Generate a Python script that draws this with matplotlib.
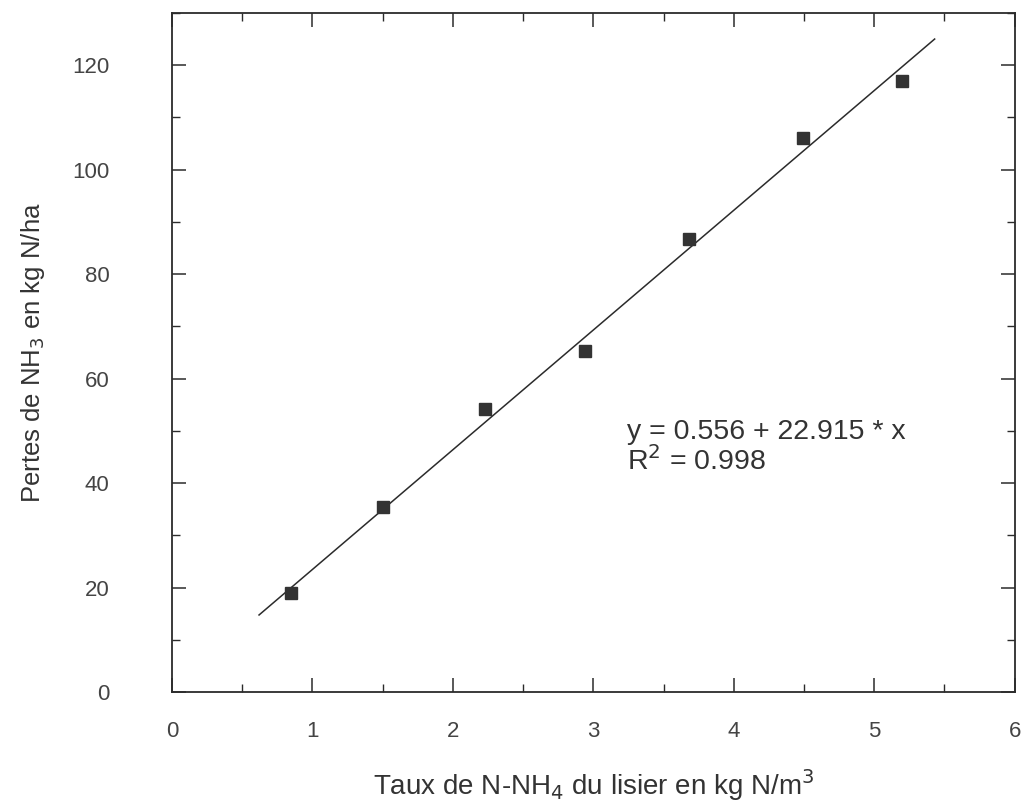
import matplotlib
matplotlib.use("Agg")
import matplotlib.pyplot as plt
import numpy as np
from matplotlib.ticker import MultipleLocator

# Data
taux_nnh4 = [0.85, 1.50, 2.23, 2.94, 3.68, 4.49, 5.20]
pertes_nh3 = [19.0, 35.4, 54.2, 65.2, 86.7, 106.0, 117.0]

intercept = 0.556
slope = 22.915
r2 = 0.998
fit_x_range = [0.62, 5.43]

x_ticks = [0, 1, 2, 3, 4, 5, 6]
y_ticks = [0, 20, 40, 60, 80, 100, 120]

plt.rcParams['font.family'] = ['Liberation Sans', 'DejaVu Sans']

fig = plt.figure(figsize=(10.26, 8.02), dpi=100)
ax = fig.add_axes([0.1676, 0.137, 0.8214, 0.847])

col = '#2b2b2b'
fx = np.array(fit_x_range)
ax.plot(fx, intercept + slope * fx, color=col, lw=1.1)
ax.plot(taux_nnh4, pertes_nh3, 's', color='#333333', markersize=8, ls='none')

ax.set_xlim(0, 6)
ax.set_ylim(0, 130)
ax.set_xticks(x_ticks)
ax.set_yticks(y_ticks)
ax.xaxis.set_minor_locator(MultipleLocator(0.5))
ax.yaxis.set_minor_locator(MultipleLocator(10))

ax.tick_params(which='both', direction='in', top=True, right=True, colors=col,
               labelcolor='#444444')
ax.tick_params(which='major', length=10, width=1.1)
ax.tick_params(which='minor', length=6, width=1.0)
ax.tick_params(axis='x', which='major', pad=21, labelsize=16)
ax.tick_params(axis='y', which='major', pad=45, labelsize=16)

for s in ax.spines.values():
    s.set_color(col)
    s.set_linewidth(1.3)

ax.set_xlabel('Taux de N-NH$_4$ du lisier en kg N/m$^3$', fontsize=20,
              color='#333333', labelpad=18)
ax.set_ylabel('Pertes de NH$_3$ en kg N/ha', fontsize=18.5, color='#333333',
              labelpad=18)

ax.text(3.24, 46.8, f'y = {intercept} + {slope} * x\nR$^2$ = {r2}',
        fontsize=20.5, color='#333333', va='center', ha='left',
        linespacing=1.05)

fig.savefig('out.png', dpi=100)
